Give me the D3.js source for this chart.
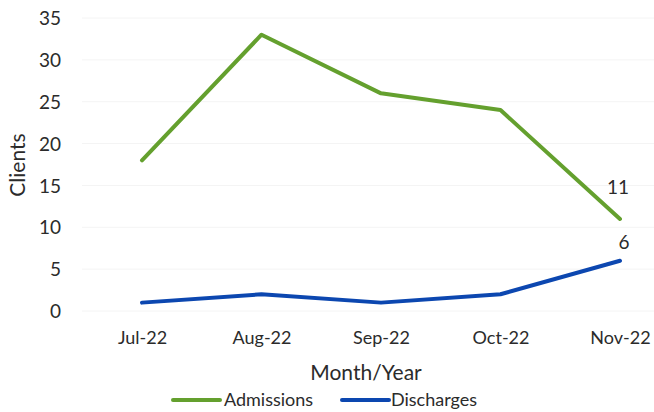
<!DOCTYPE html>
<html><head><meta charset="utf-8">
<script src="https://cdn.jsdelivr.net/npm/d3@7"></script>
<style>body{margin:0;background:#fff}svg{display:block}text{font-family:Lato,"Open Sans",sans-serif;fill:#2b2b2b}</style>
</head><body><svg id="c" width="654" height="412"></svg>
<script>
const months = ["Jul-22","Aug-22","Sep-22","Oct-22","Nov-22"];
const admissions = [18, 33, 26, 24, 11];
const discharges = [1, 2, 1, 2, 6];
const yTicks = [0,5,10,15,20,25,30,35];
const seriesNames = ["Admissions","Discharges"];
const colors = ["#64a02e","#0c47b0"];

const svg = d3.select("#c");
const x = d3.scalePoint().domain(months).range([142,620]);
const y = d3.scaleLinear().domain([0,35]).range([311,18]);

// faint gridlines
svg.append("g").selectAll("line").data(yTicks).join("line")
  .attr("x1",82).attr("x2",654).attr("y1",d=>y(d)).attr("y2",d=>y(d))
  .attr("stroke","#f4f4f4").attr("stroke-width",1);

// y axis labels
const ya = svg.append("g").attr("transform","translate(62,0)")
  .call(d3.axisLeft(y).tickValues(yTicks).tickSize(0).tickPadding(1));
ya.select(".domain").remove();
ya.selectAll("text").style("font-size","19px").attr("fill","#2b2b2b").attr("dy","0.35em");

// x axis labels
const xa = svg.append("g").attr("transform","translate(0,338)")
  .call(d3.axisBottom(x).tickSize(0).tickPadding(0));
xa.select(".domain").remove();
xa.selectAll("text").style("font-size","18px").attr("fill","#2b2b2b").attr("dy","0.35em");

// axis titles
svg.append("text").attr("x",366).attr("y",373).attr("text-anchor","middle").attr("dy","0.35em")
  .style("font-size","21px").text("Month/Year");
svg.append("text").attr("transform","translate(18,165) rotate(-90)").attr("text-anchor","middle").attr("dy","0.35em")
  .style("font-size","21px").text("Clients");

const line = d3.line().x((d,i)=>x(months[i])).y(d=>y(d));
[admissions, discharges].forEach((s,k)=>{
  svg.append("path").datum(s).attr("d",line).attr("fill","none")
    .attr("stroke",colors[k]).attr("stroke-width",4).attr("stroke-linejoin","round").attr("stroke-linecap","round");
});

// data labels on last points
const last = months.length-1;
svg.append("text").attr("x",x(months[last])-2).attr("y",y(admissions[last])-32).attr("text-anchor","middle").attr("dy","0.35em")
  .style("font-size","19px").text(admissions[last]);
svg.append("text").attr("x",x(months[last])+4).attr("y",y(discharges[last])-18).attr("text-anchor","middle").attr("dy","0.35em")
  .style("font-size","19px").text(discharges[last]);

// legend
const lg = [{x:173,tx:224},{x:342,tx:391}];
seriesNames.forEach((n,k)=>{
  svg.append("line").attr("x1",lg[k].x).attr("x2",lg[k].x+47).attr("y1",400).attr("y2",400)
    .attr("stroke",colors[k]).attr("stroke-width",4).attr("stroke-linecap","round");
  svg.append("text").attr("x",lg[k].tx).attr("y",400).attr("dy","0.35em").style("font-size","18px").text(n);
});
</script></body></html>
